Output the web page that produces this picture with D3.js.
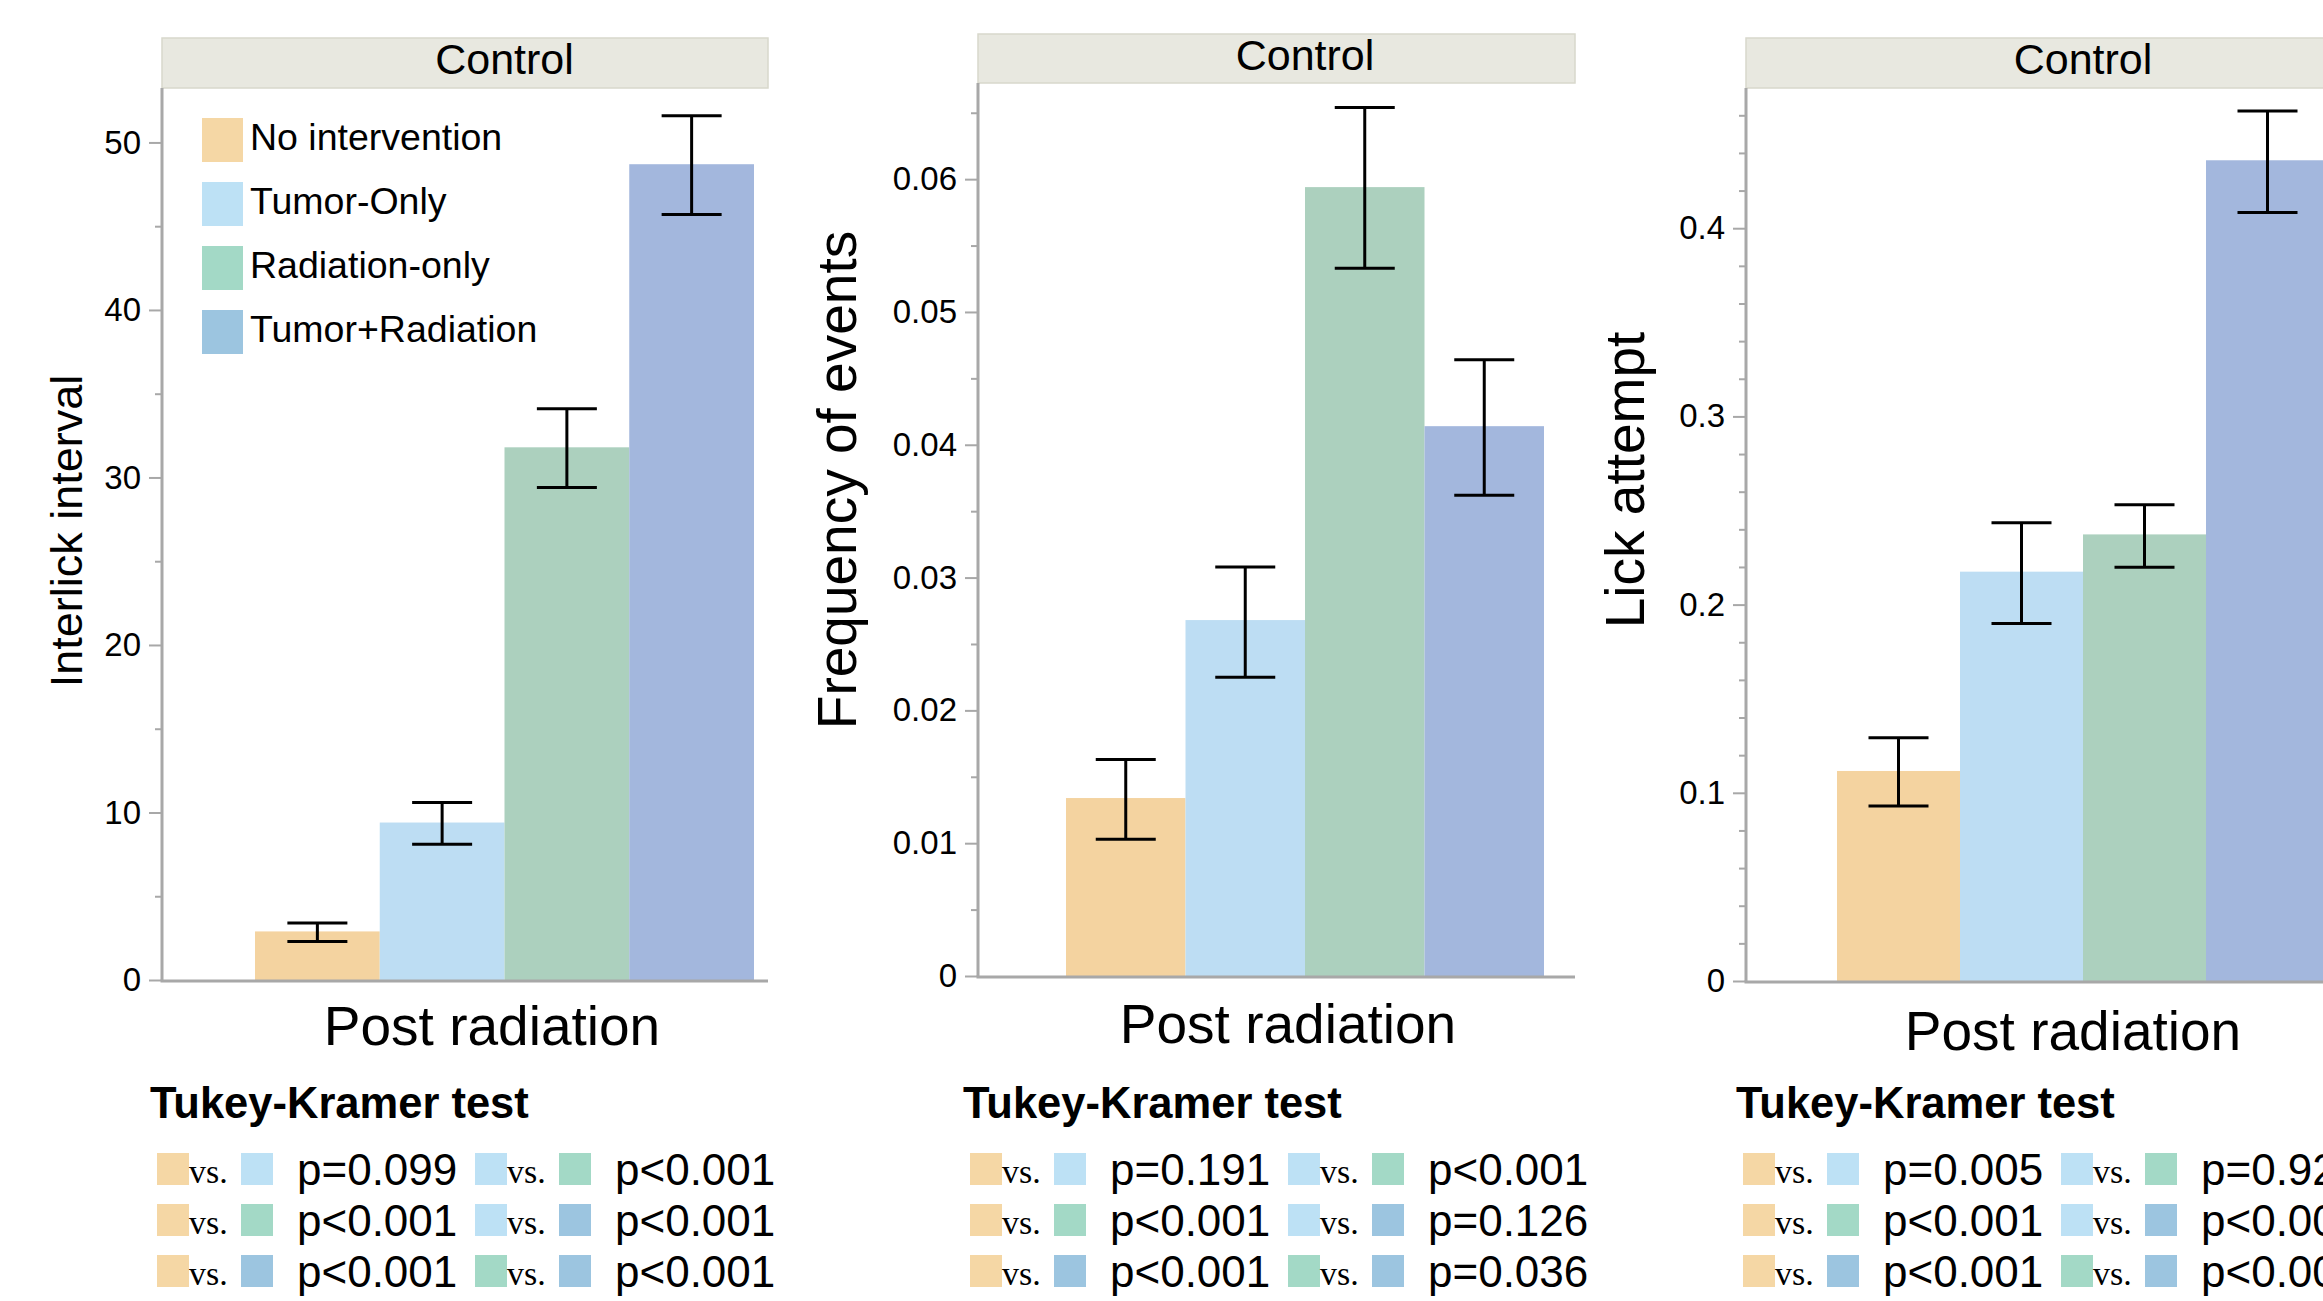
<!DOCTYPE html>
<html lang="en">
<head>
  <meta charset="UTF-8">
  <title>Post radiation - Control</title>
  <script src="https://d3js.org/d3.v7.min.js"></script>
  <style>
    body { margin: 0; background: #fff; }
    svg { display: block; font-family: "Liberation Sans", Arial, Helvetica, sans-serif; }
    .tick text { font-size: 33px; fill: #000; }
    .vs { font-family: "Liberation Serif", "Times New Roman", serif; font-size: 34px; }
  </style>
</head>
<body>
<svg width="2323" height="1301"></svg>

<script>
  // groupes
  const groups = ["No intervention", "Tumor-Only", "Radiation-only", "Tumor+Radiation"];
  const barColors = ["#F4D3A0", "#BDDDF3", "#ACD0BE", "#A3B7DD"];
  const swatchColors = ["#F5D7A5", "#BDE1F5", "#A3D9C6", "#9CC5E0"];

  // Interlick interval
  const interlickMean = [2.9, 9.4, 31.8, 48.7];
  const interlickLow  = [2.3, 8.1, 29.4, 45.7];
  const interlickHigh = [3.4, 10.6, 34.1, 51.6];
  const interlickTicks = [0, 10, 20, 30, 40, 50];
  const interlickMinor = [5, 15, 25, 35, 45];
  const interlickP = ["p=0.099", "p<0.001", "p<0.001", "p<0.001", "p<0.001", "p<0.001"];

  // Frequency of events
  const freqMean = [0.0134, 0.0268, 0.0594, 0.0414];
  const freqLow  = [0.0103, 0.0225, 0.0533, 0.0362];
  const freqHigh = [0.0163, 0.0308, 0.0654, 0.0464];
  const freqTicks = [0, 0.01, 0.02, 0.03, 0.04, 0.05, 0.06];
  const freqMinor = [0.005, 0.015, 0.025, 0.035, 0.045, 0.055, 0.065];
  const freqP = ["p=0.191", "p<0.001", "p<0.001", "p<0.001", "p=0.126", "p=0.036"];

  // Lick attempt
  const lickMean = [0.1116, 0.2175, 0.2373, 0.4361];
  const lickLow  = [0.093, 0.190, 0.2198, 0.4084];
  const lickHigh = [0.1293, 0.2435, 0.2531, 0.4623];
  const lickTicks = [0, 0.1, 0.2, 0.3, 0.4];
  const lickMinor = [0.02, 0.04, 0.06, 0.08, 0.12, 0.14, 0.16, 0.18, 0.22, 0.24, 0.26, 0.28,
                     0.32, 0.34, 0.36, 0.38, 0.42, 0.44, 0.46];
  const lickP = ["p=0.005", "p<0.001", "p<0.001", "p=0.921", "p<0.001", "p<0.001"];

  // paires comparées (colonne 1 puis colonne 2)
  const pairs = [[0, 1], [0, 2], [0, 3], [1, 2], [1, 3], [2, 3]];

  const panels = [
    { label: "Interlick interval", labelSize: 45, labelX: 82, labelY: 531,
      mean: interlickMean, low: interlickLow, high: interlickHigh,
      ticks: interlickTicks, minor: interlickMinor, yMax: 53.25, p: interlickP,
      axisX: 162, right: 768, stripTop: 38, stripBottom: 88, base: 980,
      bars: [255, 754], controlY: 74, postX: 492, postY: 1045, tukeyX: 150, legend: true },
    { label: "Frequency of events", labelSize: 55, labelX: 856, labelY: 480,
      mean: freqMean, low: freqLow, high: freqHigh,
      ticks: freqTicks, minor: freqMinor, yMax: 0.06724, p: freqP,
      axisX: 978, right: 1575, stripTop: 34, stripBottom: 83, base: 976,
      bars: [1066, 1544], controlY: 70, postX: 1288, postY: 1043, tukeyX: 963, legend: false },
    { label: "Lick attempt", labelSize: 55, labelX: 1644, labelY: 480,
      mean: lickMean, low: lickLow, high: lickHigh,
      ticks: lickTicks, minor: lickMinor, yMax: 0.4745, p: lickP,
      axisX: 1746, right: 2340, stripTop: 38, stripBottom: 88, base: 981,
      bars: [1837, 2329], controlY: 74, postX: 2073, postY: 1050, tukeyX: 1736, legend: false }
  ];

  const svg = d3.select("svg");
  const axisColor = "#a8a8a8";

  panels.forEach(p => {
    const g = svg.append("g");

    const x = d3.scaleBand().domain(groups).range(p.bars).padding(0);
    const y = d3.scaleLinear().domain([0, p.yMax]).range([p.base, p.stripBottom]);

    // bandeau "Control"
    g.append("rect")
      .attr("x", p.axisX).attr("y", p.stripTop)
      .attr("width", p.right - p.axisX).attr("height", p.stripBottom - p.stripTop)
      .attr("fill", "#E8E8E0").attr("stroke", "#D8D8CC").attr("stroke-width", 1.5);
    g.append("text")
      .attr("x", (p.bars[0] + p.bars[1]) / 2).attr("y", p.controlY)
      .attr("text-anchor", "middle").attr("font-size", 43)
      .text("Control");

    // barres
    g.selectAll("rect.bar")
      .data(groups)
      .join("rect")
        .attr("class", "bar")
        .attr("x", d => x(d))
        .attr("y", (d, i) => y(p.mean[i]))
        .attr("width", x.bandwidth())
        .attr("height", (d, i) => p.base - y(p.mean[i]))
        .attr("fill", (d, i) => barColors[i]);

    // axe Y
    const minorAxis = d3.axisLeft(y).tickValues(p.minor).tickSize(7).tickFormat("");
    g.append("g").attr("transform", `translate(${p.axisX},0)`).call(minorAxis)
      .call(a => a.select(".domain").remove())
      .call(a => a.selectAll("line").attr("stroke", axisColor).attr("stroke-width", 2));

    const majorAxis = d3.axisLeft(y).tickValues(p.ticks).tickSize(13).tickPadding(8)
      .tickFormat(d => String(d));
    g.append("g").attr("transform", `translate(${p.axisX},0)`).call(majorAxis)
      .call(a => a.select(".domain").remove())
      .call(a => a.selectAll("line").attr("stroke", axisColor).attr("stroke-width", 2));

    g.append("line")
      .attr("x1", p.axisX).attr("x2", p.axisX)
      .attr("y1", p.stripBottom).attr("y2", p.base)
      .attr("stroke", axisColor).attr("stroke-width", 3);
    g.append("line")
      .attr("x1", p.axisX - 1.5).attr("x2", p.right)
      .attr("y1", p.base + 1).attr("y2", p.base + 1)
      .attr("stroke", axisColor).attr("stroke-width", 3);

    // barres d'erreur
    const eb = g.selectAll("g.err").data(groups).join("g").attr("class", "err")
      .attr("transform", d => `translate(${x(d) + x.bandwidth() / 2},0)`);
    eb.append("line")
      .attr("y1", (d, i) => y(p.low[i])).attr("y2", (d, i) => y(p.high[i]))
      .attr("stroke", "#000").attr("stroke-width", 3);
    [p.low, p.high].forEach(arr => {
      eb.append("line")
        .attr("x1", -30).attr("x2", 30)
        .attr("y1", (d, i) => y(arr[i])).attr("y2", (d, i) => y(arr[i]))
        .attr("stroke", "#000").attr("stroke-width", 3);
    });

    // titre axe Y
    g.append("text")
      .attr("transform", `translate(${p.labelX},${p.labelY}) rotate(-90)`)
      .attr("text-anchor", "middle").attr("font-size", p.labelSize)
      .text(p.label);

    // titre axe X
    g.append("text")
      .attr("x", p.postX).attr("y", p.postY)
      .attr("text-anchor", "middle").attr("font-size", 55)
      .text("Post radiation");

    // tableau Tukey-Kramer
    g.append("text")
      .attr("x", p.tukeyX).attr("y", 1118)
      .attr("font-size", 43.5).attr("font-weight", "bold")
      .text("Tukey-Kramer test");

    const tableX = p.tukeyX + 7;
    pairs.forEach(([a, b], k) => {
      const cx = tableX + Math.floor(k / 3) * 318;
      const top = 1153 + (k % 3) * 51;
      const row = g.append("g").attr("transform", `translate(${cx},${top})`);
      row.append("rect").attr("width", 32).attr("height", 32).attr("fill", swatchColors[a]);
      row.append("text").attr("class", "vs").attr("x", 32).attr("y", 30).text("vs.");
      row.append("rect").attr("x", 84).attr("width", 32).attr("height", 32).attr("fill", swatchColors[b]);
      row.append("text").attr("x", 140).attr("y", 32).attr("font-size", 44).text(p.p[k]);
    });

    // légende
    if (p.legend) {
      const legend = g.append("g").attr("transform", "translate(202,118)");
      groups.forEach((name, i) => {
        const r = legend.append("g").attr("transform", `translate(0,${i * 64})`);
        r.append("rect").attr("width", 41).attr("height", 44).attr("fill", swatchColors[i]);
        r.append("text").attr("x", 48).attr("y", 32).attr("font-size", 37.5).text(name);
      });
    }
  });
</script>

</body>
</html>
